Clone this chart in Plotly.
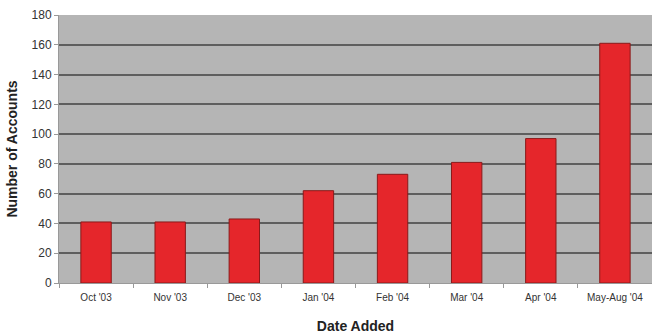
import plotly.graph_objects as go

categories = ["Oct '03", "Nov '03", "Dec '03", "Jan '04", "Feb '04", "Mar '04", "Apr '04", "May-Aug '04"]
accounts = [41, 41, 43, 62, 73, 81, 97, 161]
y_ticks = [0, 20, 40, 60, 80, 100, 120, 140, 160, 180]

fig = go.Figure(go.Bar(
    x=categories, y=accounts,
    marker=dict(color="#e5262b", line=dict(color="#8a1a1a", width=1)),
))

fig.update_layout(
    width=652, height=334,
    margin=dict(l=59, r=0, t=15, b=51),
    paper_bgcolor="white", plot_bgcolor="#b5b5b5",
    bargap=0.59, showlegend=False,
    font=dict(family="Liberation Sans, Arial, sans-serif", color="#333333", size=11),
)
fig.update_yaxes(
    range=[0, 180], tickvals=y_ticks, showgrid=True, gridcolor="#5e5e5e", gridwidth=1.5,
    zeroline=False, showline=True, linecolor="#999999",
    ticks="outside", ticklen=4, tickcolor="#999999", tickfont=dict(size=12),
    title=dict(text="<b>Number of Accounts</b>", font=dict(size=14, color="#222222"), standoff=10),
)
fig.update_xaxes(
    showgrid=False, showline=True, linecolor="#999999",
    ticks="outside", ticklen=4, tickcolor="#999999", tickson="boundaries",
    tickfont=dict(size=10), ticklabelstandoff=5,
    title=dict(text="<b>Date Added</b>", font=dict(size=14, color="#222222"), standoff=20),
)

fig.write_html("out.html")
